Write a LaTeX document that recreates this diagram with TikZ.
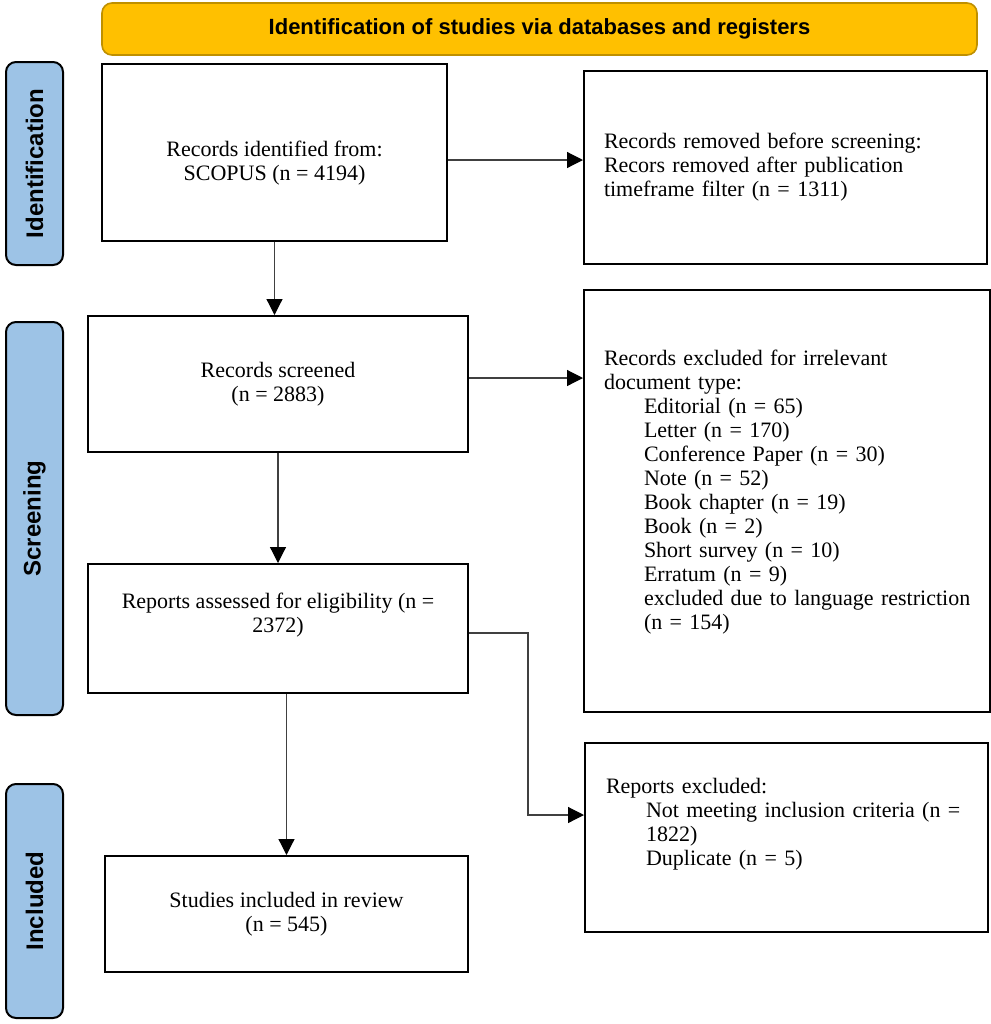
\documentclass[tikz,border=0pt]{standalone}
\usepackage{fontspec}
\setmainfont{Liberation Serif}
\setsansfont{Liberation Sans}
\usetikzlibrary{arrows.meta}
\definecolor{headfill}{HTML}{FFC000}
\definecolor{headdraw}{HTML}{BF9000}
\definecolor{phasefill}{HTML}{9DC3E6}
\newcommand{\indnt}{\hspace*{20pt}}

\begin{document}
\begin{tikzpicture}[x=0.5pt,y=-0.5pt,
  stage/.style={draw=black, line width=1pt, fill=white, font=\fontsize{11}{12}\selectfont},
  phase/.style={draw=black, line width=1pt, rounded corners=5pt, fill=phasefill, rotate=90, minimum height=28.5pt, font=\sffamily\bfseries\fontsize{12}{14}\selectfont},
  link/.style={draw=black!75, line width=0.6pt, -{Triangle[length=8pt,width=8pt,color=black]}}]
\useasboundingbox (0,0) rectangle (991,1024);
\node[draw=headdraw, fill=headfill, line width=0.8pt, rounded corners=5pt, minimum width=437.5pt, minimum height=26pt, font=\sffamily\bfseries\fontsize{11}{13}\selectfont] (head) at (539.5,29) {Identification of studies via databases and registers};
\node[phase, minimum width=101.5pt] (idphase) at (34.5,163.5) {Identification};
\node[phase, minimum width=196.5pt] (scphase) at (34.5,518.5) {Screening};
\node[phase, minimum width=117pt] (inphase) at (34.5,901) {Included};
\node[stage, align=center, minimum width=172.5pt, minimum height=88.5pt] (identified) at (274.5,152.5) {\strut\\[-2pt]Records identified from:\\SCOPUS (n = 4194)};
\node[stage, align=left, inner xsep=10pt, text width=181.5pt, minimum height=96.5pt] (removed) at (785.5,167.5) {Records removed before screening:\\Recors removed after publication\\timeframe filter (n = 1311)};
\node[stage, align=center, minimum width=190pt, minimum height=68pt] (screened) at (278,384) {Records screened\\(n = 2883)};
\node[stage, align=left, inner xsep=10pt, text width=183pt, minimum height=211pt] (irrelevant) at (787,501) {Records excluded for irrelevant\\document type:\\
  \indnt Editorial (n = 65)\\
  \indnt Letter (n = 170)\\
  \indnt Conference Paper (n = 30)\\
  \indnt Note (n = 52)\\
  \indnt Book chapter (n = 19)\\
  \indnt Book (n = 2)\\
  \indnt Short survey (n = 10)\\
  \indnt Erratum (n = 9)\\
  \indnt \mbox{excluded due to language restriction}\\
  \indnt (n = 154)\\[-4pt]\strut};
\node[stage, align=center, minimum width=190pt, minimum height=64.5pt] (assessed) at (278,628.5) {Reports assessed for eligibility (n =\\2372)\\\strut};
\node[stage, align=left, inner xsep=10.5pt, text width=180.5pt, minimum height=94.5pt] (repexcl) at (786.5,837.5) {Reports excluded:\\
  \indnt Not meeting inclusion criteria (n =\\
  \indnt 1822)\\
  \indnt Duplicate (n = 5)\\\strut};
\node[stage, align=center, minimum width=181.5pt, minimum height=58pt] (included) at (286.5,914) {Studies included in review\\(n = 545)};
\draw[link] ([yshift=-3.75pt]identified.east) -- ([yshift=-3.75pt]identified.east -| removed.west);
\draw[link] (identified.south) -- (identified.south |- screened.north);
\draw[link] ([yshift=3pt]screened.east) -- ([yshift=3pt]screened.east -| irrelevant.west);
\draw[link] (screened.south) -- (assessed.north);
\draw[link] (included.north |- assessed.south) -- (included.north);
\draw[link] ([yshift=-2.25pt]assessed.east) -- ++(59,0) |- ([yshift=11.25pt]repexcl.west);
\end{tikzpicture}
\end{document}
